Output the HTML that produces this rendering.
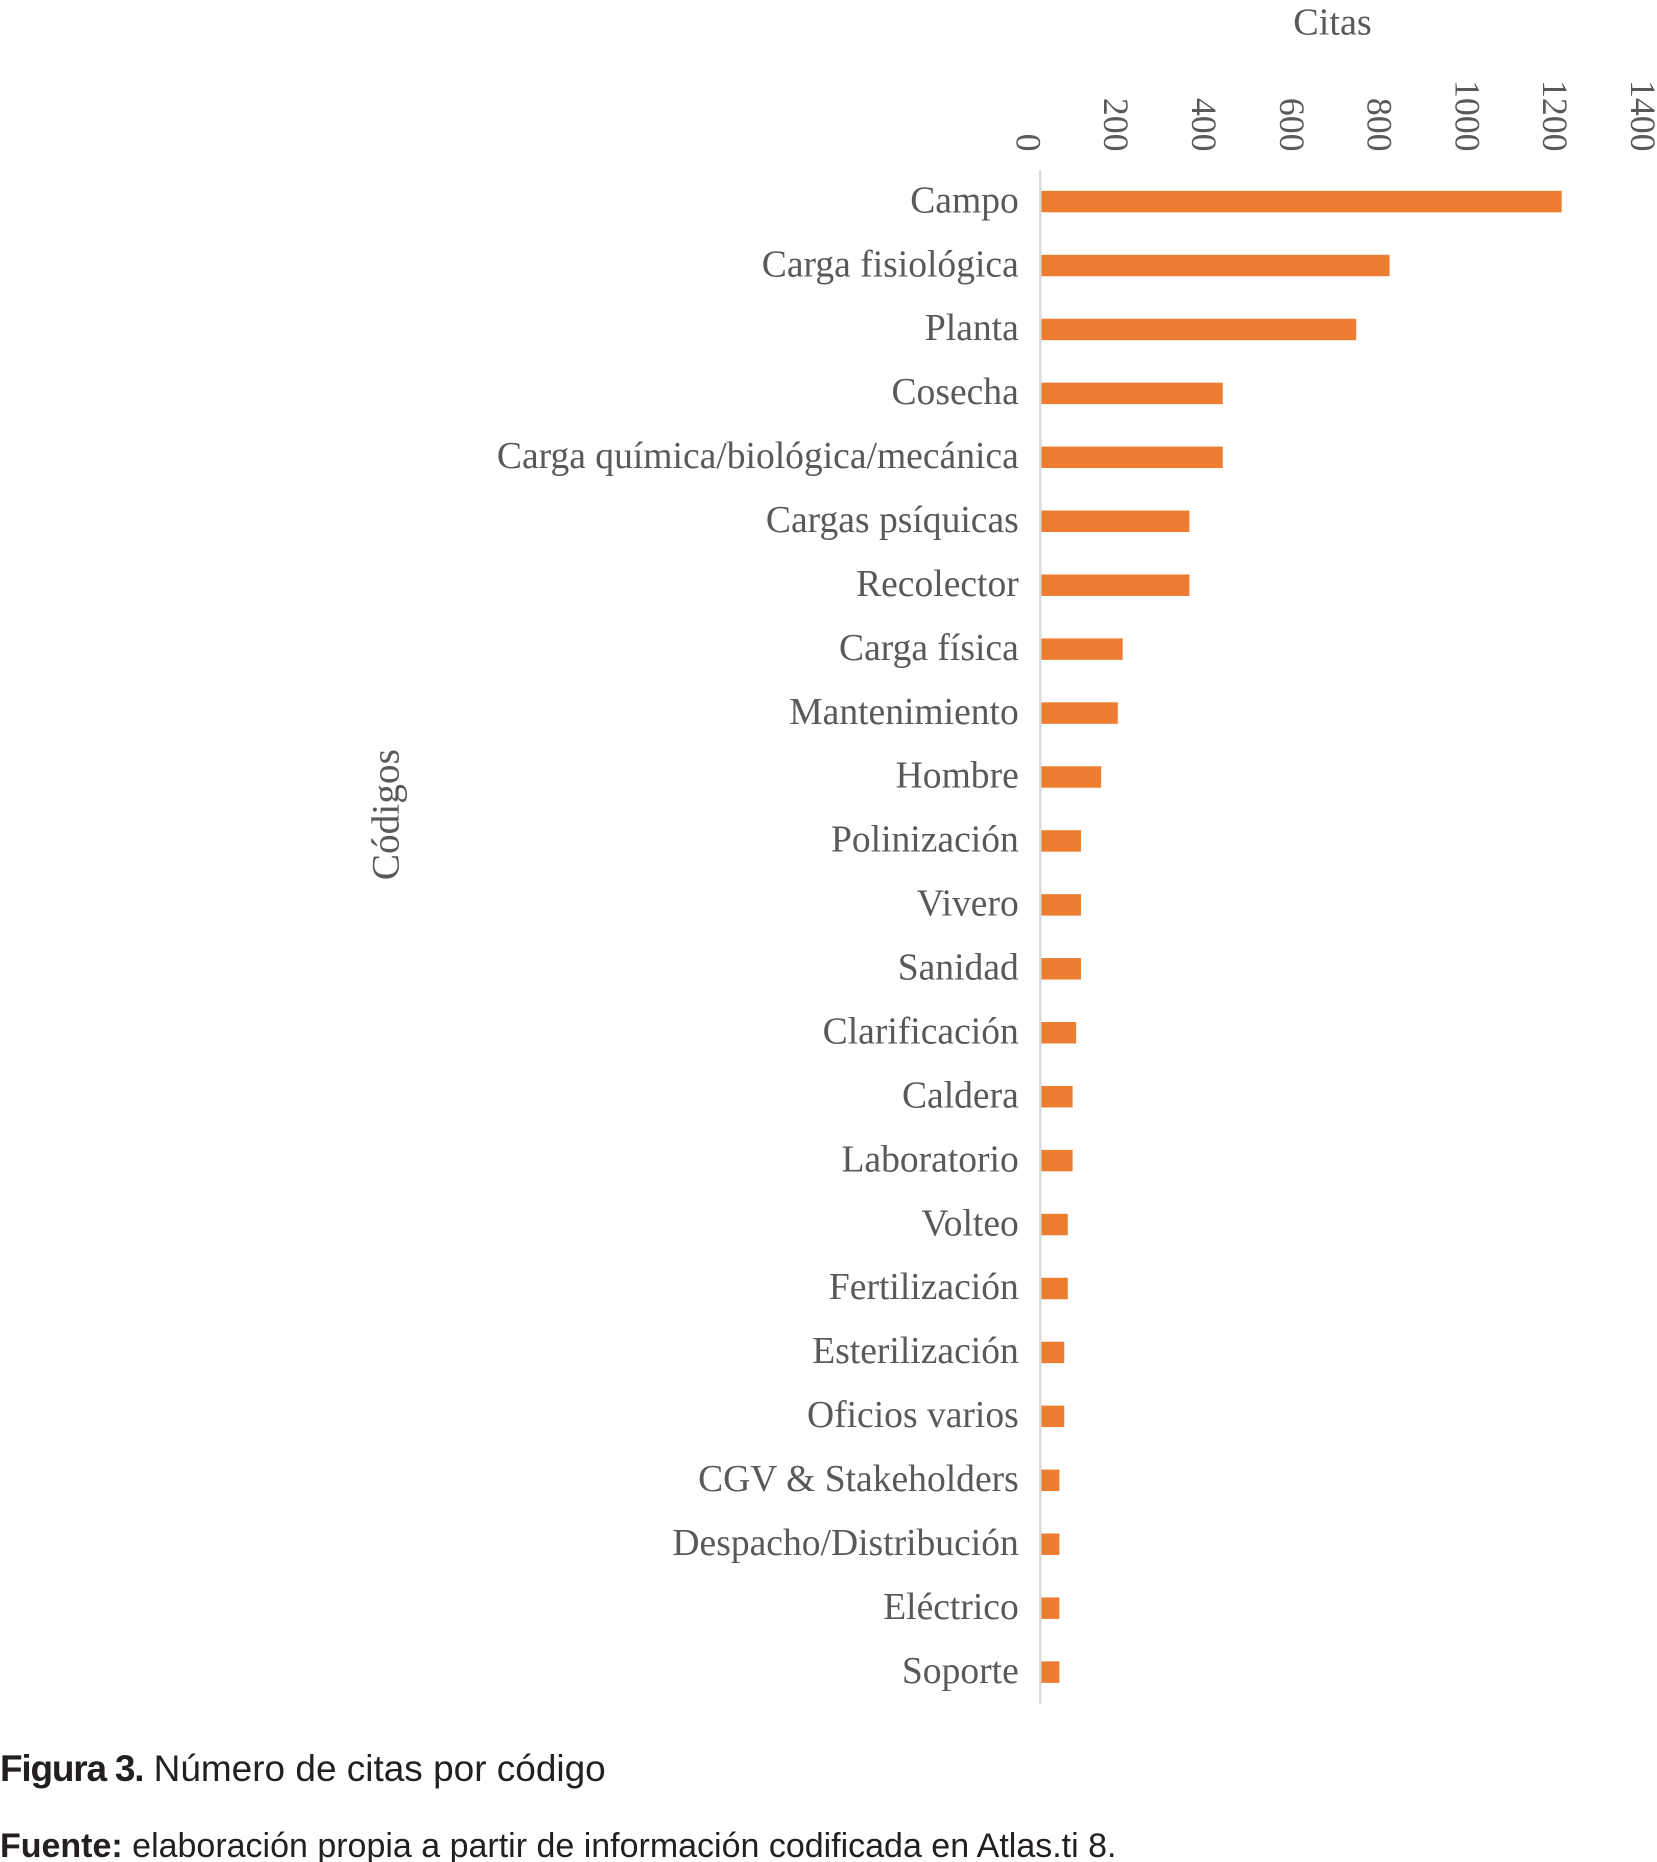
<!DOCTYPE html>
<html><head><meta charset="utf-8"><style>
html,body{margin:0;padding:0;background:#fff;}
svg{display:block;}
</style></head><body>
<svg id="chart" width="1657" height="1862" viewBox="0 0 1389 1561" preserveAspectRatio="none" xmlns="http://www.w3.org/2000/svg">
<text x="1117" y="29" text-anchor="middle" font-family="Liberation Serif, serif" font-size="32" fill="#595959">Citas</text>
<text transform="translate(334,683) rotate(-90)" text-anchor="middle" font-family="Liberation Serif, serif" font-size="33" fill="#595959">Códigos</text>
<g id="ticks"></g>
<g id="bars"></g>
<g id="labels"></g>
<line x1="872" y1="143" x2="872" y2="1429" stroke="#d9d9d9" stroke-width="2"/>
<text x="0" y="1493" font-family="Liberation Sans, sans-serif" font-size="31" fill="#231f20"><tspan font-weight="bold" letter-spacing="-1">Figura 3.</tspan> Número de citas por código</text>
<text x="0" y="1557" font-family="Liberation Sans, sans-serif" font-size="28.5" fill="#231f20"><tspan font-weight="bold">Fuente:</tspan> elaboración propia a partir de información codificada en Atlas.ti 8.</text>
</svg>
<script>
const categories = ["Campo","Carga fisiológica","Planta","Cosecha","Carga química/biológica/mecánica","Cargas psíquicas","Recolector","Carga física","Mantenimiento","Hombre","Polinización","Vivero","Sanidad","Clarificación","Caldera","Laboratorio","Volteo","Fertilización","Esterilización","Oficios varios","CGV & Stakeholders","Despacho/Distribución","Eléctrico","Soporte"];
const values = [1185,793,717,413,413,337,337,185,174,136,90,90,90,79,71,71,60,60,52,52,41,41,41,41];
const tickValues = [0,200,400,600,800,1000,1200,1400];
const tickLabels = ["0","200","400","600","800","1000","1200","1400"];

const NS = "http://www.w3.org/2000/svg";
const x0 = 873, xPerUnit = 0.368;
function xScale(v){ return x0 + v * xPerUnit; }
const yTop = 169, yStep = 53.6;
function yScale(i){ return yTop + i * yStep; }

const ticksG = document.getElementById('ticks');
tickValues.forEach((v,i)=>{
  const t = document.createElementNS(NS,'text');
  const x = xScale(v) - 21, y = 127;
  t.setAttribute('transform',`translate(${x},${y}) rotate(90)`);
  t.setAttribute('text-anchor','end');
  t.setAttribute('font-family','Liberation Serif, serif');
  t.setAttribute('font-size','30');
  t.setAttribute('fill','#595959');
  t.textContent = tickLabels[i];
  
  
  ticksG.appendChild(t);
});

const barsG = document.getElementById('bars');
const labelsG = document.getElementById('labels');
categories.forEach((c,i)=>{
  const cy = yScale(i);
  const r = document.createElementNS(NS,'rect');
  r.setAttribute('x', xScale(0));
  r.setAttribute('y', cy - 9);
  r.setAttribute('width', xScale(values[i]) - xScale(0));
  r.setAttribute('height', 18);
  r.setAttribute('fill', '#ed7d31');
  
  
  barsG.appendChild(r);
  const t = document.createElementNS(NS,'text');
  t.setAttribute('x', 854);
  t.setAttribute('y', cy + 9);
  t.setAttribute('text-anchor','end');
  t.setAttribute('font-family','Liberation Serif, serif');
  t.setAttribute('font-size','31.5');
  t.setAttribute('fill','#595959');
  t.textContent = c;
  
  
  labelsG.appendChild(t);
});
</script>
</body></html>
